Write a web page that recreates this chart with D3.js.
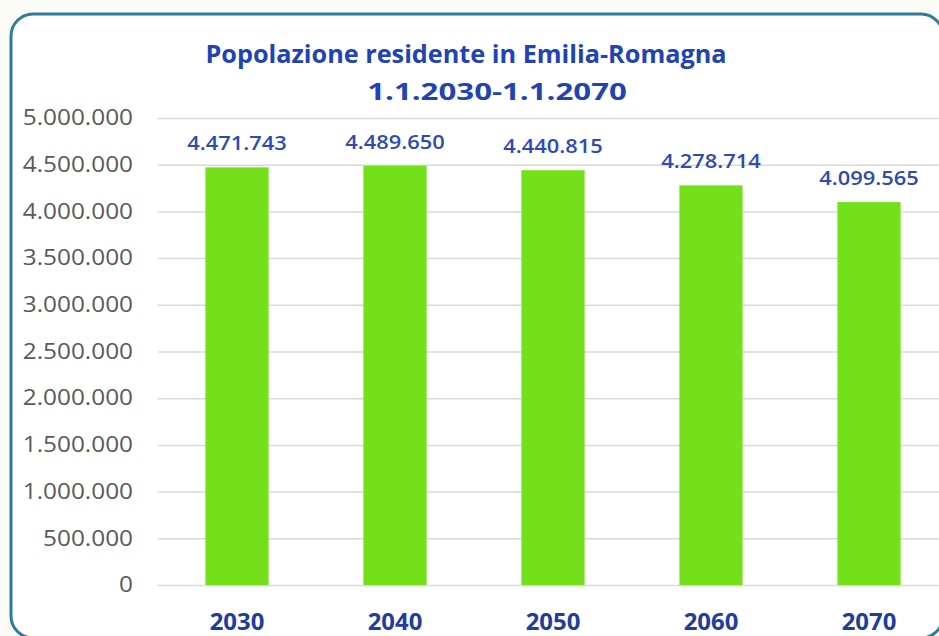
<!DOCTYPE html>
<html>
<head>
<meta charset="utf-8">
<script src="https://cdn.jsdelivr.net/npm/d3@7/dist/d3.min.js"></script>
<style>
  html, body { margin: 0; padding: 0; background: #fbfbf6; }
  svg { display: block; }
</style>
</head>
<body>
<svg id="chart" width="939" height="636"></svg>
<script>
// Popolazione residente in Emilia-Romagna, proiezioni al 1 gennaio
const years = ["2030", "2040", "2050", "2060", "2070"];
const population = [4471743, 4489650, 4440815, 4278714, 4099565];
const yTicks = [0, 500000, 1000000, 1500000, 2000000, 2500000, 3000000, 3500000, 4000000, 4500000, 5000000];
const titleLines = ["Popolazione residente in Emilia-Romagna", "1.1.2030-1.1.2070"];

const svg = d3.select("#chart");
const FONT = "'Open Sans', sans-serif";

// Italian number format: dot as thousands separator
const it = d3.formatLocale({ decimal: ",", thousands: ".", grouping: [3], currency: ["€", ""] });
const fmt = it.format(",d");

// Widen glyphs horizontally by factor k (the labels use a broad face)
function widen(sel, k) {
  sel.each(function () {
    const w = this.getComputedTextLength();
    d3.select(this)
      .attr("textLength", w * k)
      .attr("lengthAdjust", "spacingAndGlyphs");
  });
}

// Rounded frame
svg.append("rect")
  .attr("x", 11).attr("y", 14)
  .attr("width", 932).attr("height", 624)
  .attr("rx", 22).attr("ry", 22)
  .attr("fill", "#ffffff")
  .attr("stroke", "#2f7b9b")
  .attr("stroke-width", 3);

const plot = { left: 158, right: 948, top: 118, bottom: 585 };

const x = d3.scaleBand()
  .domain(years)
  .range([plot.left, plot.right])
  .paddingInner(0.6)
  .paddingOuter(0.3);

const y = d3.scaleLinear()
  .domain([0, 5000000])
  .range([plot.bottom, plot.top]);

// Gridlines and value axis
const yAxis = d3.axisLeft(y)
  .tickValues(yTicks)
  .tickFormat(fmt)
  .tickSize(-(plot.right - plot.left))
  .tickPadding(25);

const gy = svg.append("g")
  .attr("transform", `translate(${plot.left},0)`)
  .call(yAxis);
gy.select(".domain").remove();
gy.selectAll(".tick line")
  .attr("stroke", "#d9d9d9")
  .attr("stroke-width", 1.5);
gy.selectAll(".tick text")
  .attr("fill", "#595959")
  .style("font-family", FONT)
  .style("font-size", "21px")
  .call(widen, 1.16);

// Bars
svg.append("g").selectAll("rect")
  .data(population)
  .join("rect")
  .attr("x", (d, i) => x(years[i]))
  .attr("y", d => y(d))
  .attr("width", x.bandwidth())
  .attr("height", d => y(0) - y(d))
  .attr("fill", "#74e01b");

// Value labels
svg.append("g").selectAll("text")
  .data(population)
  .join("text")
  .attr("x", (d, i) => x(years[i]) + x.bandwidth() / 2)
  .attr("y", d => y(d) - 17)
  .attr("text-anchor", "middle")
  .attr("fill", "#2e4bb3")
  .style("font-family", FONT)
  .style("font-weight", 600)
  .style("font-size", "19px")
  .text(d => fmt(d))
  .call(widen, 1.15);

// Category axis labels
const xAxis = d3.axisBottom(x).tickSize(0).tickPadding(0);
const gx = svg.append("g")
  .attr("transform", `translate(0,${plot.bottom})`)
  .call(xAxis);
gx.select(".domain").remove();
gx.selectAll(".tick text")
  .attr("y", 45)
  .attr("dy", 0)
  .attr("fill", "#1f3d9e")
  .style("font-family", FONT)
  .style("font-weight", 700)
  .style("font-size", "23px")
  .call(widen, 1.04);

// Title
const title = svg.append("g")
  .attr("fill", "#2143b5")
  .style("font-family", FONT)
  .style("font-weight", 700);
title.append("text")
  .attr("x", 466).attr("y", 63)
  .attr("text-anchor", "middle")
  .style("font-size", "25px")
  .text(titleLines[0])
  .call(widen, 1.01);
title.append("text")
  .attr("x", 497).attr("y", 100)
  .attr("text-anchor", "middle")
  .style("font-size", "24px")
  .text(titleLines[1])
  .call(widen, 1.3);
</script>
</body>
</html>
